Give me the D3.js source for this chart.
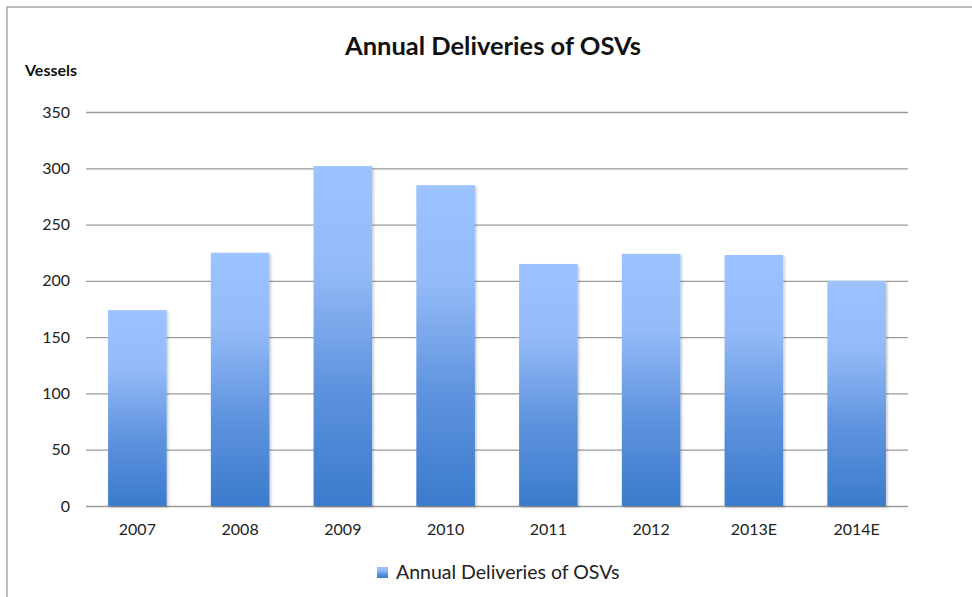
<!DOCTYPE html>
<html>
<head>
<meta charset="utf-8">
<script src="https://cdn.jsdelivr.net/npm/d3@7"></script>
<style>
  html, body { margin: 0; padding: 0; background: #ffffff; }
  svg { display: block; font-family: Lato, "Open Sans", sans-serif; }
</style>
</head>
<body>
<svg id="chart" width="972" height="597"></svg>
<script>
// Annual OSV deliveries (vessels), estimates for 2013 and 2014
const categories = ["2007", "2008", "2009", "2010", "2011", "2012", "2013E", "2014E"];
const deliveries = [174, 225, 302, 285, 215, 224, 223, 200];
const yTicks = [0, 50, 100, 150, 200, 250, 300, 350];
const seriesName = "Annual Deliveries of OSVs";
const chartTitle = "Annual Deliveries of OSVs";
const yAxisTitle = "Vessels";

const svg = d3.select("#chart");
const W = 972, H = 597;
const plot = { left: 86, right: 908, top: 112, bottom: 506 };

// Frame around the chart
svg.append("path")
  .attr("d", `M7,${H} L7,7 L${W},7`)
  .attr("fill", "none")
  .attr("stroke", "#a6a6a6")
  .attr("stroke-width", 1.5);

const defs = svg.append("defs");
const grad = defs.append("linearGradient")
  .attr("id", "barFill")
  .attr("x1", 0).attr("y1", 0).attr("x2", 0).attr("y2", 1);
[[0, "#9cc3ff"], [0.3, "#94bbf8"], [0.65, "#5e93de"], [1, "#3b7bcc"]]
  .forEach(([o, c]) => grad.append("stop").attr("offset", o).attr("stop-color", c));

const shadow = defs.append("filter").attr("id", "barShadow")
  .attr("x", "-10%").attr("y", "-5%").attr("width", "125%").attr("height", "115%");
shadow.append("feDropShadow")
  .attr("dx", 1.5).attr("dy", 1.5).attr("stdDeviation", 1.2)
  .attr("flood-color", "#000").attr("flood-opacity", 0.22);

const x = d3.scaleBand()
  .domain(categories)
  .range([plot.left, plot.right])
  .paddingInner(0.43)
  .paddingOuter(0.215);

const y = d3.scaleLinear()
  .domain([0, 350])
  .range([plot.bottom, plot.top]);

// Horizontal gridlines and value labels
const yAxis = d3.axisLeft(y)
  .tickValues(yTicks)
  .tickSize(-(plot.right - plot.left))
  .tickPadding(16);

const gy = svg.append("g")
  .attr("transform", `translate(${plot.left},0)`)
  .call(yAxis);
gy.select(".domain").remove();
gy.selectAll(".tick line").attr("stroke", "#9a9a9a").attr("stroke-width", 1.3);
gy.selectAll(".tick text")
  .attr("fill", "#222")
  .style("font-size", "16px")
  .style("font-family", "Lato, sans-serif");

// Bars
svg.append("g")
  .selectAll("rect")
  .data(categories.map((c, i) => ({ c, v: deliveries[i] })))
  .join("rect")
  .attr("x", d => x(d.c))
  .attr("y", d => y(d.v))
  .attr("width", x.bandwidth())
  .attr("height", d => y(0) - y(d.v))
  .attr("fill", "url(#barFill)")
  .attr("filter", "url(#barShadow)");

// Category axis
const xAxis = d3.axisBottom(x).tickSize(0).tickPadding(18);
const gx = svg.append("g")
  .attr("transform", `translate(0,${plot.bottom})`)
  .call(xAxis);
gx.select(".domain").remove();
gx.selectAll(".tick text")
  .attr("fill", "#222")
  .style("font-size", "16px")
  .style("font-family", "Lato, sans-serif");

// Titles
svg.append("text")
  .attr("x", 493).attr("y", 55)
  .attr("text-anchor", "middle")
  .style("font-size", "25.5px")
  .style("font-weight", "bold")
  .attr("fill", "#111")
  .text(chartTitle);

svg.append("text")
  .attr("x", 25).attr("y", 76)
  .style("font-size", "16px")
  .style("font-weight", "bold")
  .attr("fill", "#111")
  .text(yAxisTitle);

// Legend
const legend = svg.append("g").attr("transform", "translate(377,567)");
legend.append("rect")
  .attr("width", 11).attr("height", 11)
  .attr("fill", "url(#barFill)");
legend.append("text")
  .attr("x", 19).attr("y", 12)
  .style("font-size", "19.5px")
  .attr("fill", "#222")
  .text(seriesName);
</script>
</body>
</html>
